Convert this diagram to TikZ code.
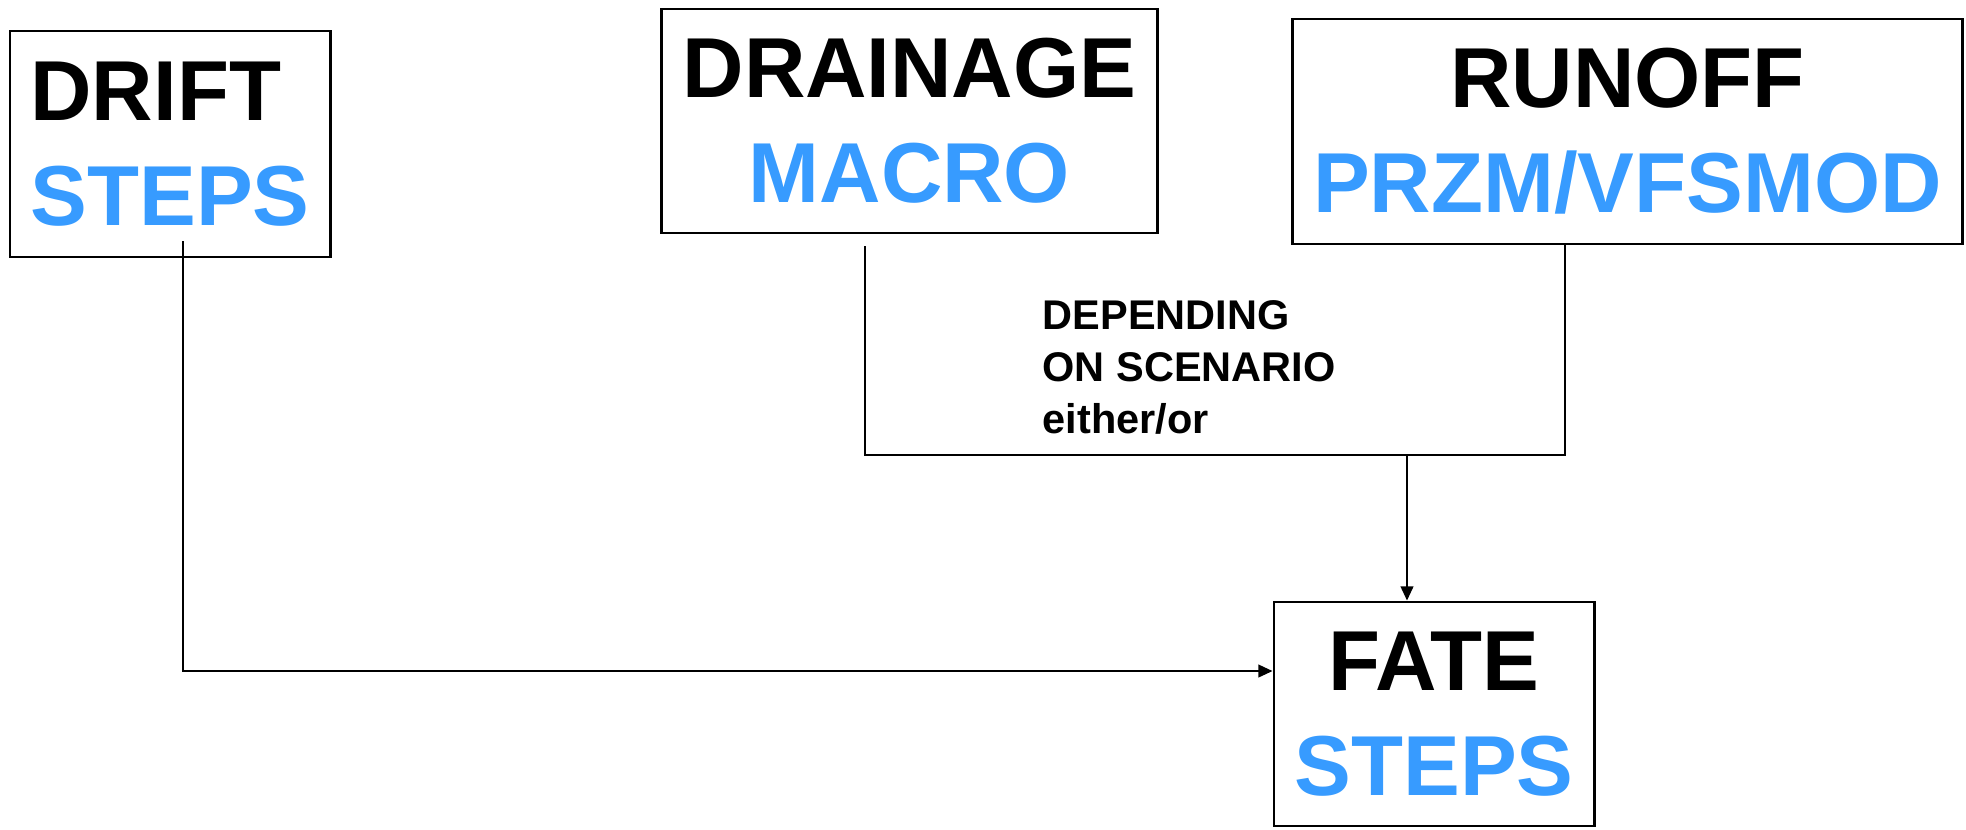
\documentclass[tikz,border=0pt]{standalone}
\usepackage{fontspec}
\setmainfont{Liberation Sans}
\usetikzlibrary{arrows.meta}
\definecolor{stepblue}{RGB}{55,155,255}
\tikzset{
	model/.style={draw, line width=0.8pt, inner sep=0pt, align=center,
		font=\fontsize{24.2}{29.8}\selectfont\bfseries},
	link/.style={line width=0.5pt},
	feed/.style={link, -{Triangle[length=4pt,width=3.6pt]}}
}

\begin{document}
\begin{tikzpicture}[x=0.01cm, y=-0.01cm]
		\useasboundingbox (0,0) rectangle (1966,829);
		% Models
		\node[model, align=left, minimum width=3.2cm, minimum height=2.26cm] (drift) at (170,144) {DRIFT\\\textcolor{stepblue}{STEPS}};
		\node[model, minimum width=4.95cm, minimum height=2.24cm] (drainage) at (909.5,121) {DRAINAGE\\\textcolor{stepblue}{MACRO}};
		\node[model, minimum width=6.69cm, minimum height=2.25cm] (runoff) at (1627.5,131.5) {RUNOFF\\\textcolor{stepblue}{PRZM/VFSMOD}};
		\node[model, minimum width=3.2cm, minimum height=2.24cm] (fate) at (1434,714) {FATE\\\textcolor{stepblue}{STEPS}};
		\node[anchor=north west, inner sep=0pt, align=left, font=\fontsize{11.8}{14.7}\selectfont\bfseries] (scenario) at (1042,300) {DEPENDING\\ON SCENARIO\\either/or};
		
		% Connections
		\coordinate (driftout) at (183,241);
		\coordinate (driftbend) at (183,671);
		\draw[feed] (driftout) -- (driftbend) -- (driftbend -| fate.west);
		
		\coordinate (drainout) at (865,246);
		\coordinate (runjoin) at (1565,455);
		\draw[link] (drainout) |- (runjoin) -- (runjoin |- runoff.south);
		\coordinate (split) at (1407,455);
		\draw[feed] (split) -- (split |- fate.north);
	\end{tikzpicture}
\end{document}
